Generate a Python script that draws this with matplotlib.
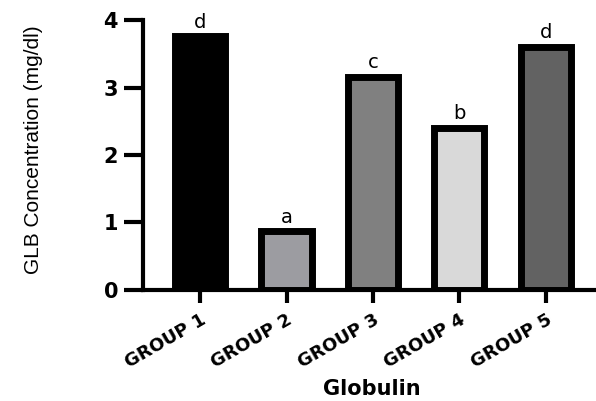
import matplotlib
matplotlib.use("Agg")
import matplotlib.pyplot as plt

# data
groups = ["GROUP 1", "GROUP 2", "GROUP 3", "GROUP 4", "GROUP 5"]
values = [3.76, 0.87, 3.16, 2.40, 3.60]
letters = ["d", "a", "c", "b", "d"]
colors = ["#000000", "#9c9ca1", "#808080", "#d9d9d9", "#626262"]

plt.rcParams['font.family'] = ['Liberation Sans', 'DejaVu Sans']
wide = ['DejaVu Sans']

fig = plt.figure(figsize=(5.96, 4.01), dpi=100)
ax = fig.add_axes([0.24, 0.277, 0.76, 0.673])

x = list(range(len(groups)))
ax.bar(x, values, width=0.58, color=colors, edgecolor="black", linewidth=5)

for xi, v, l in zip(x, values, letters):
    ax.text(xi, v + 0.07, l, ha="center", va="bottom", fontsize=14, family=wide)

ax.set_xlim(-0.66, 4.58)
ax.set_ylim(0, 4)
ax.set_yticks([0, 1, 2, 3, 4])
ax.set_xticks(x)
ax.set_xticklabels(groups, rotation=30, ha="right", rotation_mode="anchor",
                   fontsize=13, fontweight="bold", family=wide)
for lab in ax.get_yticklabels():
    lab.set_fontsize(15)
    lab.set_fontweight("bold")
    lab.set_family(wide)

for s in ["top", "right"]:
    ax.spines[s].set_visible(False)
for s in ["left", "bottom"]:
    ax.spines[s].set_linewidth(3)
ax.tick_params(axis="y", length=14, width=3, pad=4)
ax.tick_params(axis="x", length=9, width=3, pad=6)

ax.set_xlabel("Globulin", fontsize=15, fontweight="bold", family=wide)
ax.xaxis.set_label_coords(0.505, -0.33)
ax.set_ylabel("GLB Concentration (mg/dl)", fontsize=15)
ax.yaxis.set_label_coords(-0.22, 0.52)

fig.savefig("out.png", dpi=100)
